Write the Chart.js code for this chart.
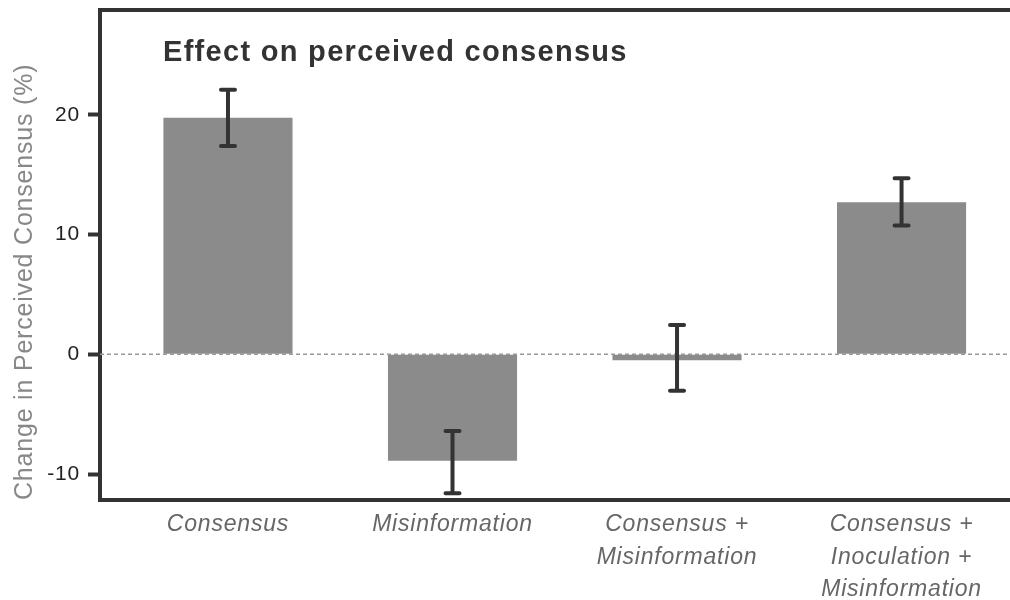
<!DOCTYPE html>
<html>
<head>
<meta charset="utf-8">
<script src="https://cdn.jsdelivr.net/npm/chart.js@4.4.1/dist/chart.umd.min.js"></script>
<style>
  html, body { margin: 0; padding: 0; background: #fff; }
  #wrap { width: 1010px; height: 600px; position: relative; }
</style>
</head>
<body>
<div id="wrap"><canvas id="consensusChart"></canvas></div>
<script>
// values
const categories = [
  ['Consensus'],
  ['Misinformation'],
  ['Consensus +', 'Misinformation'],
  ['Consensus +', 'Inoculation +', 'Misinformation']
];
const meanChange = [19.75, -8.9, -0.5, 12.7];
const ciLow = [17.4, -11.6, -3.05, 10.75];
const ciHigh = [22.1, -6.4, 2.45, 14.7];
const yTicks = [-10, 0, 10, 20];
const titleText = 'Effect on perceived consensus';

const FONT = '"Liberation Sans", Arial, sans-serif';

const extras = {
  id: 'extras',
  beforeDraw(chart) {
    // the original lettering is a little loosely spaced
    chart.ctx.letterSpacing = '0.8px';
  },
  afterDatasetsDraw(chart) {
    const { ctx, chartArea, scales: { x, y } } = chart;
    ctx.save();

    // dashed zero line
    const y0 = y.getPixelForValue(0);
    ctx.strokeStyle = '#9a9a9a';
    ctx.lineWidth = 1.5;
    ctx.setLineDash([4, 3]);
    ctx.beginPath();
    ctx.moveTo(chartArea.left, y0);
    ctx.lineTo(chartArea.right, y0);
    ctx.stroke();
    ctx.setLineDash([]);

    // error bars
    ctx.strokeStyle = '#333';
    ctx.lineWidth = 4;
    ctx.lineCap = 'round';
    meanChange.forEach((_, i) => {
      const px = x.getPixelForValue(i);
      const lo = y.getPixelForValue(ciLow[i]);
      const hi = y.getPixelForValue(ciHigh[i]);
      ctx.beginPath();
      ctx.moveTo(px, lo); ctx.lineTo(px, hi);
      ctx.moveTo(px - 7, lo); ctx.lineTo(px + 7, lo);
      ctx.moveTo(px - 7, hi); ctx.lineTo(px + 7, hi);
      ctx.stroke();
    });

    // top of the frame
    ctx.lineCap = 'butt';
    ctx.beginPath();
    ctx.moveTo(chartArea.left - 2, chartArea.top);
    ctx.lineTo(chartArea.right, chartArea.top);
    ctx.stroke();

    // panel title
    ctx.fillStyle = '#333';
    ctx.font = 'bold 29px ' + FONT;
    ctx.letterSpacing = '1.3px';
    ctx.textBaseline = 'alphabetic';
    ctx.textAlign = 'left';
    ctx.fillText(titleText, chartArea.left + 63, 61);
    ctx.restore();
  },
  afterDraw(chart) {
    chart.ctx.letterSpacing = '0px';
  }
};

new Chart(document.getElementById('consensusChart'), {
  type: 'bar',
  data: {
    datasets: [{
      data: meanChange.map((v, i) => ({ x: i, y: v })),
      backgroundColor: '#8b8b8b',
      categoryPercentage: 0.575,
      barPercentage: 1
    }]
  },
  options: {
    responsive: true,
    maintainAspectRatio: false,
    animation: false,
    layout: { padding: { top: 10, right: 0, left: 0, bottom: 0 } },
    plugins: {
      legend: { display: false },
      tooltip: { enabled: false }
    },
    scales: {
      x: {
        type: 'linear',
        offset: false,
        min: -0.57,
        max: 3.483,
        afterBuildTicks: s => { s.ticks = categories.map((_, i) => ({ value: i })); },
        ticks: {
          callback: v => categories[v],
          color: '#666',
          font: { family: FONT, size: 23, style: 'italic', lineHeight: 1.4 },
          padding: 9,
          maxRotation: 0,
          autoSkip: false
        },
        grid: { display: false, drawTicks: false, offset: false },
        border: { display: true, color: '#333', width: 4 },
        afterFit: s => { s.height = 100; s.paddingLeft = 0; s.paddingRight = 0; }
      },
      y: {
        min: -12.17,
        max: 28.76,
        afterBuildTicks: s => { s.ticks = yTicks.map(v => ({ value: v })); },
        ticks: {
          color: '#222',
          font: { family: FONT, size: 21 },
          padding: 8
        },
        grid: { drawOnChartArea: false, drawTicks: true, tickLength: 12, tickWidth: 4, tickColor: '#333' },
        border: { display: true, color: '#333', width: 4 },
        title: {
          display: true,
          text: 'Change in Perceived Consensus (%)',
          color: '#888',
          font: { family: FONT, size: 25 },
          align: 'start',
          padding: { top: 10, bottom: 0 }
        },
        afterFit: s => { s.width = 100; s.paddingTop = 0; s.paddingBottom = 0; }
      }
    }
  },
  plugins: [extras]
});
</script>
</body>
</html>
